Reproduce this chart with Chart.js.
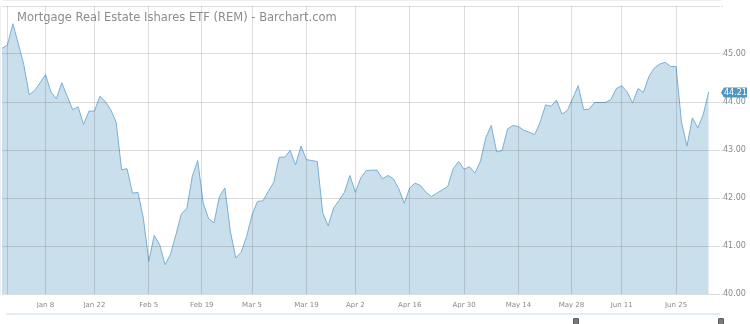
<!DOCTYPE html>
<html>
<head>
<meta charset="utf-8">
<script src="https://cdn.jsdelivr.net/npm/chart.js@4/dist/chart.umd.min.js"></script>
<style>
  html, body { margin: 0; padding: 0; background: #fff; }
  #wrap { position: relative; width: 750px; height: 324px; }
  #title {
    position: absolute; left: 17px; top: 12px;
    font: 11.5px "DejaVu Sans", sans-serif; line-height: 1;
    color: #8c8c8c; white-space: nowrap; pointer-events: none;
  }
  #nav-line { position: absolute; left: 6px; top: 313px; width: 714px; height: 2px; background: #e2edf6; }
  .handle { position: absolute; top: 318px; width: 4px; height: 8px; background: #7a7a7a; border: 1px solid #5c5c5c; border-radius: 1px; }
</style>
</head>
<body>
<div id="wrap">
  <canvas id="c"></canvas>
  <div id="title">Mortgage Real Estate Ishares ETF (REM) - Barchart.com</div>
  <div id="nav-line"></div>
  <div class="handle" style="left:573px"></div>
  <div class="handle" style="left:718px"></div>
</div>
<script>
// trading days shown on the chart
const dates = [
  '2017-12-26','2017-12-27','2017-12-28','2017-12-29',
  '2018-01-02','2018-01-03','2018-01-04','2018-01-05','2018-01-08','2018-01-09','2018-01-10','2018-01-11','2018-01-12',
  '2018-01-16','2018-01-17','2018-01-18','2018-01-19','2018-01-22','2018-01-23','2018-01-24','2018-01-25','2018-01-26',
  '2018-01-29','2018-01-30','2018-01-31',
  '2018-02-01','2018-02-02','2018-02-05','2018-02-06','2018-02-07','2018-02-08','2018-02-09','2018-02-12','2018-02-13',
  '2018-02-14','2018-02-15','2018-02-16','2018-02-20','2018-02-21','2018-02-22','2018-02-23','2018-02-26','2018-02-27','2018-02-28',
  '2018-03-01','2018-03-02','2018-03-05','2018-03-06','2018-03-07','2018-03-08','2018-03-09','2018-03-12','2018-03-13',
  '2018-03-14','2018-03-15','2018-03-16','2018-03-19','2018-03-20','2018-03-21','2018-03-22','2018-03-23','2018-03-26',
  '2018-03-27','2018-03-28','2018-03-29',
  '2018-04-02','2018-04-03','2018-04-04','2018-04-05','2018-04-06','2018-04-09','2018-04-10','2018-04-11','2018-04-12',
  '2018-04-13','2018-04-16','2018-04-17','2018-04-18','2018-04-19','2018-04-20','2018-04-23','2018-04-24','2018-04-25',
  '2018-04-26','2018-04-27','2018-04-30',
  '2018-05-01','2018-05-02','2018-05-03','2018-05-04','2018-05-07','2018-05-08','2018-05-09','2018-05-10','2018-05-11',
  '2018-05-14','2018-05-15','2018-05-16','2018-05-17','2018-05-18','2018-05-21','2018-05-22','2018-05-23','2018-05-24',
  '2018-05-25','2018-05-29','2018-05-30','2018-05-31',
  '2018-06-01','2018-06-04','2018-06-05','2018-06-06','2018-06-07','2018-06-08','2018-06-11','2018-06-12','2018-06-13',
  '2018-06-14','2018-06-15','2018-06-18','2018-06-19','2018-06-20','2018-06-21','2018-06-22','2018-06-25','2018-06-26',
  '2018-06-27','2018-06-28','2018-06-29',
  '2018-07-02','2018-07-03'
];

// closing prices, one per trading day
const closes = [
  45.12, 45.19, 45.63, 45.21,
  44.78, 44.15, 44.24, 44.40, 44.57, 44.21, 44.07, 44.40, 44.12,
  43.84, 43.90, 43.53, 43.81, 43.81, 44.12, 44.01, 43.84, 43.58,
  42.59, 42.61, 42.10,
  42.12, 41.58, 40.68, 41.22, 41.03, 40.61, 40.83, 41.24, 41.67,
  41.78, 42.45, 42.78, 41.90, 41.57, 41.48, 42.03, 42.21, 41.31, 40.75,
  40.87, 41.20, 41.65, 41.93, 41.94, 42.14, 42.33, 42.85, 42.85,
  42.99, 42.69, 43.08, 42.80, 42.78, 42.76, 41.69, 41.42, 41.79,
  41.95, 42.12, 42.47,
  42.12, 42.42, 42.57, 42.58, 42.58, 42.40, 42.47, 42.40, 42.19,
  41.89, 42.21, 42.31, 42.26, 42.12, 42.03, 42.10, 42.17, 42.24,
  42.61, 42.76, 42.60,
  42.65, 42.52, 42.76, 43.26, 43.51, 42.96, 42.99, 43.44, 43.51,
  43.49, 43.41, 43.37, 43.32, 43.58, 43.94, 43.91, 44.04, 43.75,
  43.82, 44.08, 44.34, 43.84,
  43.85, 43.99, 43.99, 43.99, 44.05, 44.28, 44.34, 44.21, 43.98,
  44.28, 44.20, 44.53, 44.71, 44.79, 44.83, 44.74, 44.74, 43.58,
  43.08, 43.67, 43.46,
  43.74, 44.21
];

// x axis ticks
const tickDates = ['2018-01-08','2018-01-22','2018-02-05','2018-02-19','2018-03-05','2018-03-19','2018-04-02',
                   '2018-04-16','2018-04-30','2018-05-14','2018-05-28','2018-06-11','2018-06-25'];
const tickLabels = ['Jan 8','Jan 22','Feb 5','Feb 19','Mar 5','Mar 19','Apr 2',
                    'Apr 16','Apr 30','May 14','May 28','Jun 11','Jun 25'];

// y axis
const yMin = 40, yMax = 46, yStep = 1;

const gridColor = 'rgba(0,0,0,0.13)';
const tickColor = '#8a8a8a';
const font = '"DejaVu Sans", sans-serif';

// position of a calendar date on the trading-day axis (holidays fall between days)
function posOf(d) {
  const t = Date.parse(d);
  for (let i = 0; i < dates.length - 1; i++) {
    const a = Date.parse(dates[i]), b = Date.parse(dates[i + 1]);
    if (t >= a && t < b) return i + (t - a) / (b - a);
  }
  return dates.length - 1;
}

// last price tag on the right axis
const lastTag = {
  id: 'lastTag',
  afterDraw(chart) {
    const ctx = chart.ctx;
    const area = chart.chartArea;
    const last = closes[closes.length - 1];
    const y = Math.round(chart.scales.y.getPixelForValue(last)) + 0.5;
    const x = area.right + 1;
    ctx.save();
    ctx.fillStyle = '#4f96c3';
    ctx.beginPath();
    ctx.moveTo(x, y);
    ctx.lineTo(x + 3, y - 5);
    ctx.lineTo(x + 26, y - 5);
    ctx.lineTo(x + 26, y + 5);
    ctx.lineTo(x + 3, y + 5);
    ctx.closePath();
    ctx.fill();
    ctx.fillStyle = '#fff';
    ctx.font = '8px ' + font;
    ctx.textBaseline = 'middle';
    ctx.fillText(last.toFixed(2), x + 3, y + 0.5);
    ctx.restore();
  }
};

new Chart(document.getElementById('c'), {
  type: 'line',
  data: {
    datasets: [{
      data: closes.map((v, i) => ({ x: i, y: v })),
      borderColor: '#78afd6',
      borderWidth: 1,
      backgroundColor: '#c9dfeb',
      fill: 'start',
      pointRadius: 0,
      tension: 0
    }]
  },
  options: {
    responsive: true,
    maintainAspectRatio: false,
    animation: false,
    layout: { padding: { left: 1, top: 6, right: 0, bottom: 16 } },
    plugins: { legend: { display: false }, tooltip: { enabled: false } },
    scales: {
      x: {
        type: 'linear',
        min: 0,
        max: closes.length - 1 + 2.08,
        afterBuildTicks: (scale) => {
          scale.ticks = [{ value: 0.92 }].concat(tickDates.map(d => ({ value: posOf(d) })));
        },
        afterFit: (scale) => { scale.height = 14; },
        grid: { color: gridColor, z: 1, drawTicks: false },
        border: { color: gridColor },
        ticks: {
          autoSkip: false, maxRotation: 0, padding: 7,
          color: tickColor, font: { family: font, size: 7 },
          callback: (v, i) => i === 0 ? '' : tickLabels[i - 1]
        }
      },
      y: {
        position: 'right',
        min: yMin, max: yMax,
        afterFit: (scale) => { scale.width = 30; },
        grid: { color: gridColor, z: 1, tickLength: 3 },
        border: { color: gridColor },
        ticks: {
          stepSize: yStep, padding: 0,
          color: tickColor, font: { family: font, size: 8 },
          callback: (v) => v === yMax ? '' : v.toFixed(2)
        }
      }
    }
  },
  plugins: [lastTag]
});
</script>
</body>
</html>
